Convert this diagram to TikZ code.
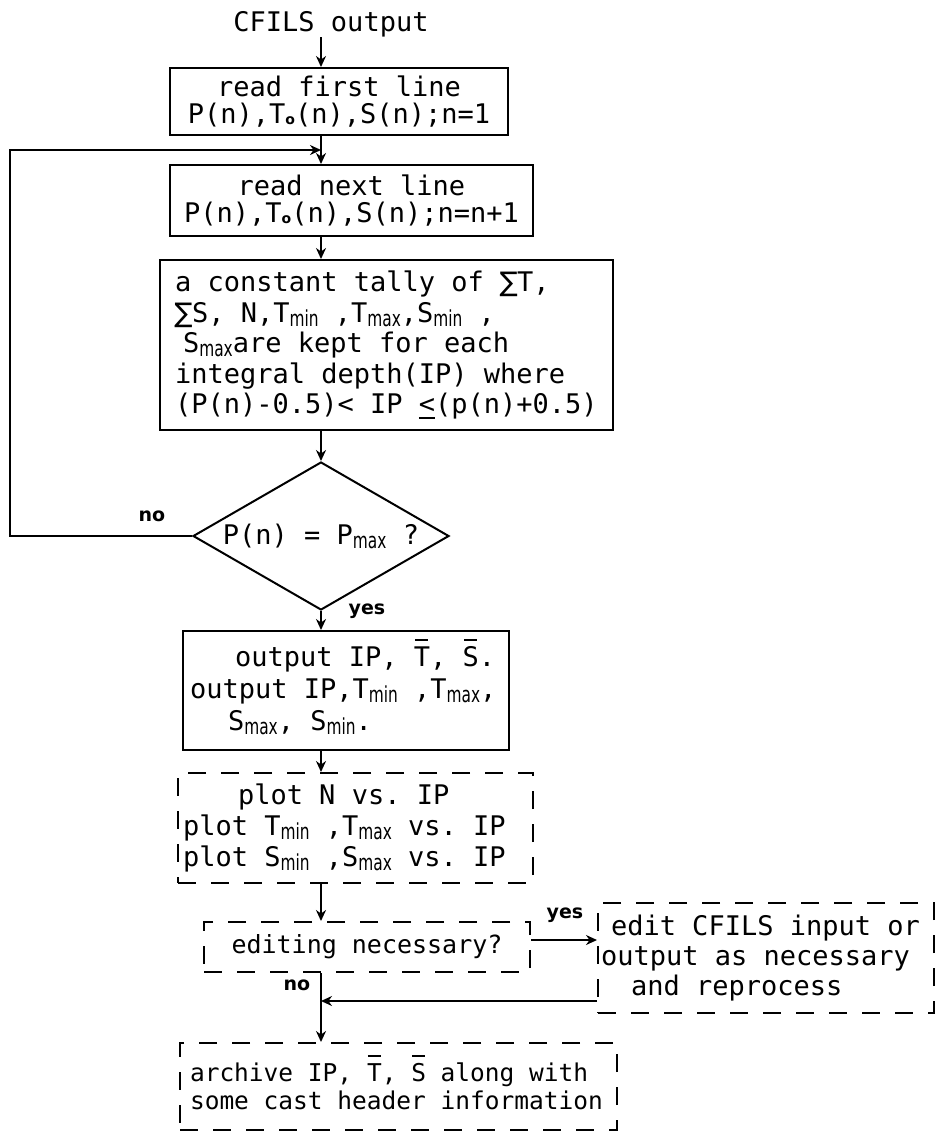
\documentclass[tikz,border=0pt]{standalone}
\usepackage{fontspec}
\usepackage{graphicx}
\setmainfont{DejaVu Sans Mono}
\newfontfamily\lblfont{DejaVu Sans}
\usetikzlibrary{arrows.meta,shapes.geometric}
\newcommand\tf[2]{\fontsize{#1}{#2}\selectfont\frenchspacing}
\newcommand\sub[1]{\raisebox{-4pt}{\scalebox{0.7}[1]{\lblfont\fontsize{22}{22}\selectfont #1}}}
\newcommand\tsubo{\raisebox{-1pt}{\lblfont\bfseries\fontsize{14}{14}\selectfont o}}
\newcommand\ovl[1]{\setbox0\hbox{#1}\rlap{\hbox to\wd0{\hss\smash{\rule[25pt]{13pt}{2pt}}\hss}}\box0\relax}
\newcommand\sumsign{\makebox[17pt]{\lblfont ∑}}
\newcommand\uleq{\setbox0\hbox{<}\rlap{\smash{\rule[-5pt]{\wd0}{2pt}}}\box0\relax}
\tikzset{
  every node/.style={font=\tf{27}{30}, inner sep=0pt,
    execute at begin node={\spaceskip=0.602em\xspaceskip=0.602em\relax}},
  box/.style={draw, line width=2pt},
  dbox/.style={box, dash pattern=on 18pt off 15pt},
  arr/.style={line width=2pt, -{Stealth[length=11pt,width=10pt]}},
  lbl/.style={font=\lblfont\bfseries\fontsize{19}{19}\selectfont},
}
\begin{document}
\begin{tikzpicture}[x=1pt,y=-1pt]
\fill[white] (0,0) rectangle (937,1136);
\useasboundingbox (0,0) rectangle (937,1136);
\coordinate (ax) at (321,0);
\coordinate (lpt) at (10,150);
\coordinate (yy) at (0,940);
\coordinate (ry) at (0,1001);

\node (cfils) at (331,24) {CFILS output};
\node[box, text width=338pt, align=center, minimum height=67pt, font=\tf{27}{27}] (b1) at (339,101.5) {read first line\\P(n),T\tsubo(n),S(n);n=1};
\node[box, text width=363pt, align=center, minimum height=71pt, font=\tf{27}{27}] (b2) at (351.5,200.5) {read next line\\P(n),T\tsubo(n),S(n);n=n+1};
\node[box, text width=423pt, inner xsep=15pt, align=left, minimum height=170pt, font=\tf{27}{30.5}] (tal) at (386.5,345)
 {a constant tally of \sumsign T,\\\sumsign S, N,T\sub{min} ,T\sub{max},S\sub{min} ,\\\hspace*{8pt}S\sub{max}are kept for each\\integral depth(IP) where\\(P(n)-0.5)< IP \uleq(p(n)+0.5)};
\node[draw, diamond, aspect=1.73, minimum width=256pt, minimum height=148pt, line width=2pt] (dec) at (321,536) {P(n) = P\sub{max} ?};
\node[lbl] (no1) at (152,516) {no};
\node[lbl] (yes1) at (367,611) {yes};
\node[box, text width=312pt, inner xsep=7pt, align=left, minimum height=119pt, font=\tf{27}{32}] (out) at (346,690.5)
 {\hspace*{45pt}output IP, \ovl{T}, \ovl{S}.\\output IP,T\sub{min} ,T\sub{max},\\\hspace*{38pt}S\sub{max}, S\sub{min}.};
\node[dbox, text width=345pt, inner xsep=5pt, align=left, minimum height=110pt, font=\tf{27}{31}] (plt) at (355.5,828)
 {\hspace*{55pt}plot N vs. IP\\plot T\sub{min} ,T\sub{max} vs. IP\\plot S\sub{min} ,S\sub{max} vs. IP};
\node[dbox, text width=326pt, align=center, minimum height=50pt, font=\tf{25}{30}] (edq) at (367,947) {editing necessary?};
\node[dbox, text width=330pt, inner xsep=3pt, align=left, minimum height=110pt, font=\tf{27}{30}] (edt) at (766,958)
 {\hspace*{10pt}edit CFILS input or\\output as necessary\\\hspace*{30pt}and reprocess};
\node[dbox, text width=417pt, inner xsep=10pt, align=left, minimum height=87pt, font=\tf{24.5}{28}] (arc) at (398.5,1086.5)
 {archive IP, \ovl{T}, \ovl{S} along with\\some cast header information};
\node[lbl] (no2) at (297,985) {no};
\node[lbl] (yes2) at (565,915) {yes};

\draw[arr] (cfils.south -| ax) -- (b1.north -| ax);
\draw[arr] (b1.south -| ax) -- (b2.north -| ax);
\draw[arr] (dec.west) -- (dec.west -| lpt) -- (lpt) -- (lpt -| ax);
\draw[arr] (b2.south -| ax) -- (tal.north -| ax);
\draw[arr] (tal.south -| ax) -- (dec.north);
\draw[arr] (dec.south) -- (out.north -| dec.south);
\draw[arr] (out.south -| ax) -- (plt.north -| ax);
\draw[arr] (plt.south -| ax) -- (edq.north -| ax);
\draw[arr] (edq.east |- yy) -- (edt.west |- yy);
\draw[arr] (edt.west |- ry) -- (ax |- ry);
\draw[arr] (edq.south -| ax) -- (arc.north -| ax);
\end{tikzpicture}
\end{document}
